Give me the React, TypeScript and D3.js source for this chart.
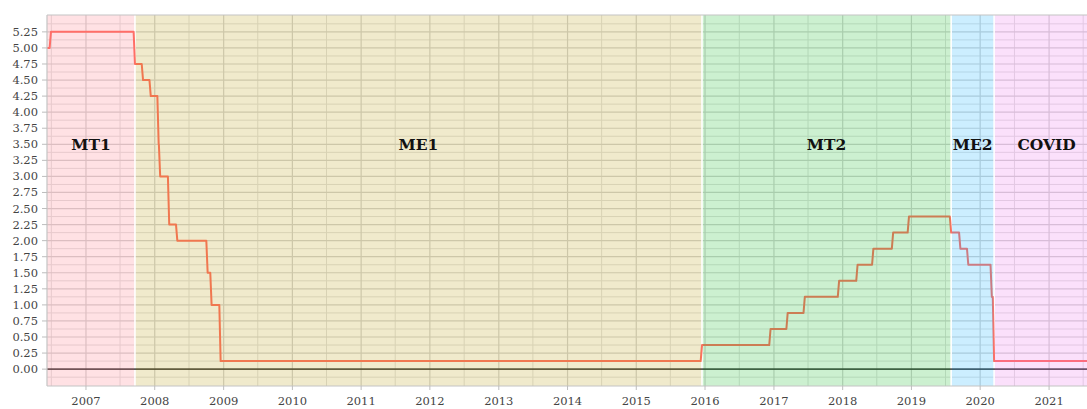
import React from "react";
import * as d3 from "d3";

const rateDates: string[] = [
  "2006-06-08", "2006-06-29", "2007-09-18", "2007-10-31", "2007-12-11",
  "2008-01-22", "2008-01-30", "2008-03-18", "2008-04-30", "2008-10-08",
  "2008-10-29", "2008-12-16", "2015-12-16", "2016-12-14", "2017-03-15",
  "2017-06-14", "2017-12-13", "2018-03-21", "2018-06-13", "2018-09-26",
  "2018-12-19", "2019-07-31", "2019-09-18", "2019-10-30", "2020-03-03",
  "2020-03-15", "2021-09-23",
];
const rateValues: number[] = [
  5.0, 5.25, 4.75, 4.5, 4.25,
  3.5, 3.0, 2.25, 2.0, 1.5,
  1.0, 0.125, 0.375, 0.625, 0.875,
  1.125, 1.375, 1.625, 1.875, 2.125,
  2.375, 2.125, 1.875, 1.625, 1.125,
  0.125, 0.125,
];

const eraNames: string[] = ["MT1", "ME1", "MT2", "ME2", "COVID"];
const eraStarts: string[] = ["2006-06-08", "2007-09-18", "2015-12-16", "2019-07-31", "2020-03-15"];
const eraEnds: string[] = ["2007-09-18", "2015-12-16", "2019-07-31", "2020-03-15", "2021-09-23"];
const eraColors: string[] = ["#ff6978", "#b49600", "#00b414", "#00aaff", "#eb64eb"];

const yTicks: number[] = d3.range(0, 5.2501, 0.25);
const yMinor: number[] = d3.range(-0.125, 5.4, 0.25);
const yearTicks: number[] = d3.range(2007, 2022);
const xDomain: string[] = ["2006-06-08", "2021-09-23"];
const yDomain: number[] = [-0.2625, 5.5125];
const sampleDays = 7; // weekly observations: changes ramp over one week

const W = 1087;
const H = 409;
const left = 47;
const rightX = 1099;
const top = 15;
const bottom = 386;

const parse = d3.timeParse("%Y-%m-%d");

export default function App() {
  const x = d3.scaleTime().domain(xDomain.map((s) => parse(s) as Date)).range([left, rightX]);
  const y = d3.scaleLinear().domain(yDomain).range([bottom, top]);

  const pts: { date: Date; v: number }[] = [];
  rateDates.forEach((d, i) => {
    const dt = parse(d) as Date;
    if (i > 0 && rateValues[i] !== rateValues[i - 1]) {
      pts.push({ date: d3.timeDay.offset(dt, -sampleDays), v: rateValues[i - 1] });
    }
    pts.push({ date: dt, v: rateValues[i] });
  });
  const line = d3
    .line<{ date: Date; v: number }>()
    .x((d) => x(d.date))
    .y((d) => y(d.v));

  const majorX = yearTicks.map((yr) => new Date(yr, 0, 1));
  const minorX = d3.range(2006, 2022).map((yr) => new Date(yr, 6, 1));

  const serif = "'DejaVu Serif', 'Liberation Serif', serif";
  const gap = 0.8;

  return (
    <svg width={W} height={H} style={{ position: "absolute", left: 0, top: 0, background: "#fff" }}>
      <defs>
        <clipPath id="plot">
          <rect x={left} y={top} width={rightX - left} height={bottom - top} />
        </clipPath>
      </defs>
      <g clipPath="url(#plot)">
        {yMinor.map((v) => (
          <line key={"ym" + v} x1={left} x2={rightX} y1={y(v)} y2={y(v)} stroke="#e2e2e2" strokeWidth={1} />
        ))}
        {minorX.map((d, i) => (
          <line key={"xm" + i} x1={x(d)} x2={x(d)} y1={top} y2={bottom} stroke="#e2e2e2" strokeWidth={1} />
        ))}
        {yTicks.map((v) => (
          <line key={"yg" + v} x1={left} x2={rightX} y1={y(v)} y2={y(v)} stroke="#d4d4d4" strokeWidth={1.2} />
        ))}
        {majorX.map((d, i) => (
          <line key={"xg" + i} x1={x(d)} x2={x(d)} y1={top} y2={bottom} stroke="#d4d4d4" strokeWidth={1.2} />
        ))}
        {eraStarts.slice(1).map((s) => (
          <line key={"sep" + s} x1={x(parse(s) as Date)} x2={x(parse(s) as Date)} y1={top} y2={bottom} stroke="#fff" strokeWidth={gap * 2} />
        ))}
        <line x1={left} x2={rightX} y1={y(0)} y2={y(0)} stroke="#000" strokeOpacity={0.65} strokeWidth={1.6} />
        <path d={line(pts) || ""} fill="none" stroke="#ff7064" strokeWidth={2} strokeLinejoin="round" />
        {eraNames.map((n, i) => {
          const x0 = x(parse(eraStarts[i]) as Date) + (i > 0 ? gap : 0);
          const x1 = x(parse(eraEnds[i]) as Date) - (i < eraNames.length - 1 ? gap : 0);
          return (
            <rect key={n} x={x0} y={top} width={x1 - x0} height={bottom - top} fill={eraColors[i]} fillOpacity={0.2} />
          );
        })}
        {eraNames.map((n, i) => {
          const cx = (x(parse(eraStarts[i]) as Date) + x(parse(eraEnds[i]) as Date)) / 2;
          return (
            <text key={"l" + n} x={cx} y={y(3.5) + 5.5} textAnchor="middle" fontFamily={serif} fontWeight="bold" fontSize={15.5} fill="#111">
              {n}
            </text>
          );
        })}
      </g>
      <line x1={left} x2={rightX} y1={top} y2={top} stroke="#c4c4c4" strokeWidth={1.2} />
      <line x1={left} x2={left} y1={top} y2={bottom} stroke="#c4c4c4" strokeWidth={1.2} />
      <line x1={left} x2={rightX} y1={bottom} y2={bottom} stroke="#c4c4c4" strokeWidth={1.2} />
      {yTicks.map((v) => (
        <g key={"yt" + v}>
          <line x1={left - 5} x2={left} y1={y(v)} y2={y(v)} stroke="#bdbdbd" strokeWidth={1} />
          <text x={left - 9} y={y(v) + 4} textAnchor="end" fontFamily={serif} fontSize={11.5} fill="#444">
            {v.toFixed(2)}
          </text>
        </g>
      ))}
      {majorX.map((d, i) => (
        <g key={"xt" + i}>
          <line x1={x(d)} x2={x(d)} y1={bottom} y2={bottom + 4} stroke="#bdbdbd" strokeWidth={1} />
          <text x={x(d)} y={bottom + 19} textAnchor="middle" fontFamily={serif} fontSize={11.5} fill="#444">
            {yearTicks[i]}
          </text>
        </g>
      ))}
    </svg>
  );
}
